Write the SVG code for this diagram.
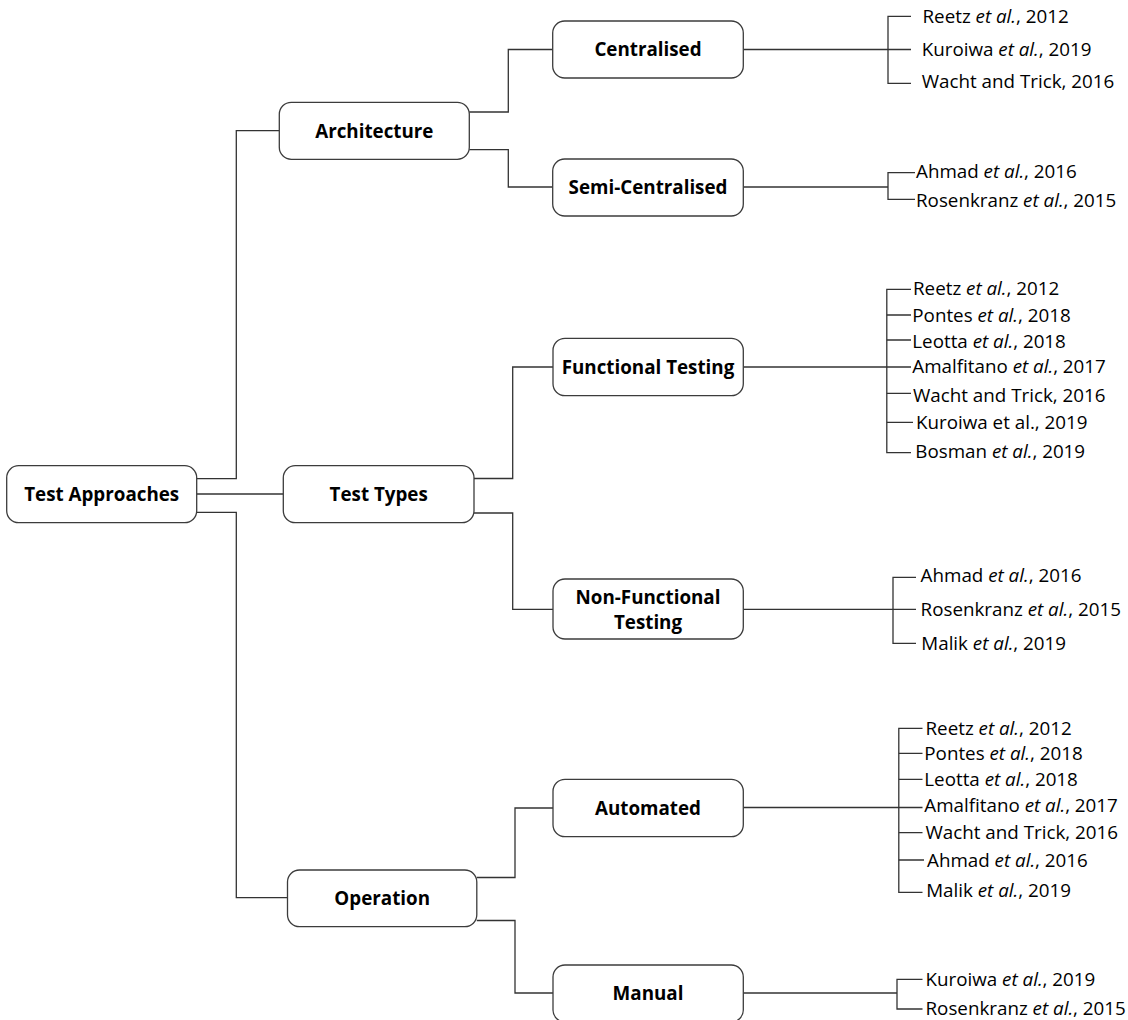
<svg xmlns="http://www.w3.org/2000/svg" width="1128" height="1020" viewBox="0 0 1128 1020">
  <style>
    .node rect { fill: #ffffff; stroke: #3c3c3c; stroke-width: 1.3; }
    .node text { font-family: "Open Sans", "Noto Sans", "Liberation Sans", sans-serif; font-size: 18.8px; font-weight: bold; fill: #000; text-anchor: middle; }
    .links path { fill: none; stroke: #333333; stroke-width: 1.3; }
    .ref text { font-family: "Open Sans", "Noto Sans", "Liberation Sans", sans-serif; font-size: 18.8px; fill: #000; }
    .it { font-style: italic; }
  </style>
  <rect width="1128" height="1020" fill="#ffffff"/>

  <!-- connectors -->
  <g class="links" id="connectors">
    <!-- root to categories -->
    <path d="M196.7,478.7 H236.3 V130.7 H279.3"/>
    <path d="M196.7,494 H283.3"/>
    <path d="M196.7,512.3 H236.3 V897.7 H287.5"/>
    <!-- Architecture -->
    <path d="M469.3,112 H508.3 V49.5 H552.7"/>
    <path d="M469.3,149.7 H508.3 V187 H552.7"/>
    <!-- Test Types -->
    <path d="M474,478.5 H512.7 V367 H553"/>
    <path d="M474,513 H512.7 V609.3 H553"/>
    <!-- Operation -->
    <path d="M476.8,877.5 H515 V808 H553"/>
    <path d="M476.8,920.5 H515 V993 H553"/>

    <!-- Centralised references -->
    <path d="M743.3,49.5 H911"/>
    <path d="M911,16.3 H888 V83.3 H911"/>
    <!-- Semi-Centralised references -->
    <path d="M743.3,187 H888"/>
    <path d="M915,172.7 H888 V199.3 H915"/>
    <!-- Functional Testing references -->
    <path d="M743.3,367 H911"/>
    <path d="M911,289.3 H886.8 V452.7 H911"/>
    <path d="M886.8,315 H911 M886.8,340 H911 M886.8,393.3 H911 M886.8,422.3 H913"/>
    <!-- Non-Functional Testing references -->
    <path d="M743.3,609.3 H916"/>
    <path d="M916,577.3 H893 V643.3 H916"/>
    <!-- Automated references -->
    <path d="M743.3,807.5 H922.5"/>
    <path d="M922.5,728.3 H898.8 V892.3 H922.5"/>
    <path d="M898.8,753.3 H922.5 M898.8,779.3 H922.5 M898.8,832.7 H922.5 M898.8,860 H924"/>
    <!-- Manual references -->
    <path d="M743.3,993 H897"/>
    <path d="M922.5,979.3 H897 V1009 H922.5"/>
  </g>

  <!-- tree nodes -->
  <g class="node" id="test-approaches">
    <rect x="6.7" y="465.7" width="190" height="57" rx="12"/>
    <text x="101.7" y="500.8">Test Approaches</text>
  </g>
  <g class="node" id="architecture">
    <rect x="279.3" y="102.3" width="190" height="57" rx="12"/>
    <text x="374.3" y="137.8">Architecture</text>
  </g>
  <g class="node" id="test-types">
    <rect x="283.3" y="465.7" width="190.7" height="57" rx="12"/>
    <text x="378.7" y="500.8">Test Types</text>
  </g>
  <g class="node" id="operation">
    <rect x="287.5" y="870" width="189.3" height="56.7" rx="12"/>
    <text x="382.2" y="904.8">Operation</text>
  </g>
  <g class="node" id="centralised">
    <rect x="552.7" y="21" width="190.6" height="57" rx="12"/>
    <text x="648" y="56.3">Centralised</text>
  </g>
  <g class="node" id="semi-centralised">
    <rect x="552.7" y="159" width="190.6" height="57" rx="12"/>
    <text x="648" y="193.8">Semi-Centralised</text>
  </g>
  <g class="node" id="functional-testing">
    <rect x="553" y="338.3" width="190.3" height="57.4" rx="12"/>
    <text x="648" y="373.8">Functional Testing</text>
  </g>
  <g class="node" id="non-functional-testing">
    <rect x="553" y="579" width="190.3" height="60" rx="12"/>
    <text x="648" y="603.5">Non-Functional</text>
    <text x="648" y="628.5">Testing</text>
  </g>
  <g class="node" id="automated">
    <rect x="553" y="779.3" width="190.3" height="57.4" rx="12"/>
    <text x="648" y="814.6">Automated</text>
  </g>
  <g class="node" id="manual">
    <rect x="553" y="965" width="190.3" height="57" rx="12"/>
    <text x="648" y="1000">Manual</text>
  </g>

  <!-- reference lists -->
  <g class="ref" id="refs-centralised">
    <text x="922.5" y="23">Reetz <tspan class="it">et al.</tspan>, 2012</text>
    <text x="921.7" y="56">Kuroiwa <tspan class="it">et al.</tspan>, 2019</text>
    <text x="921.7" y="88.4">Wacht and Trick, 2016</text>
  </g>
  <g class="ref" id="refs-semi-centralised">
    <text x="916" y="178.4">Ahmad <tspan class="it">et al.</tspan>, 2016</text>
    <text x="916" y="206.7">Rosenkranz <tspan class="it">et al.</tspan>, 2015</text>
  </g>
  <g class="ref" id="refs-functional">
    <text x="913" y="295">Reetz <tspan class="it">et al.</tspan>, 2012</text>
    <text x="912.3" y="321.7">Pontes <tspan class="it">et al.</tspan>, 2018</text>
    <text x="912.3" y="347.7">Leotta <tspan class="it">et al.</tspan>, 2018</text>
    <text x="912.3" y="373.4">Amalfitano <tspan class="it">et al.</tspan>, 2017</text>
    <text x="913" y="401.7">Wacht and Trick, 2016</text>
    <text x="916" y="429">Kuroiwa et al., 2019</text>
    <text x="915.3" y="458.4">Bosman <tspan class="it">et al.</tspan>, 2019</text>
  </g>
  <g class="ref" id="refs-non-functional">
    <text x="920.6" y="581.7">Ahmad <tspan class="it">et al.</tspan>, 2016</text>
    <text x="920.6" y="616">Rosenkranz <tspan class="it">et al.</tspan>, 2015</text>
    <text x="921.3" y="649.7">Malik <tspan class="it">et al.</tspan>, 2019</text>
  </g>
  <g class="ref" id="refs-automated">
    <text x="925.5" y="735">Reetz <tspan class="it">et al.</tspan>, 2012</text>
    <text x="924.3" y="760">Pontes <tspan class="it">et al.</tspan>, 2018</text>
    <text x="924.3" y="786">Leotta <tspan class="it">et al.</tspan>, 2018</text>
    <text x="924.3" y="812.4">Amalfitano <tspan class="it">et al.</tspan>, 2017</text>
    <text x="925.5" y="839.4">Wacht and Trick, 2016</text>
    <text x="927" y="866.7">Ahmad <tspan class="it">et al.</tspan>, 2016</text>
    <text x="926.2" y="896.7">Malik <tspan class="it">et al.</tspan>, 2019</text>
  </g>
  <g class="ref" id="refs-manual">
    <text x="925.5" y="986">Kuroiwa <tspan class="it">et al.</tspan>, 2019</text>
    <text x="925.5" y="1014.5">Rosenkranz <tspan class="it">et al.</tspan>, 2015</text>
  </g>
</svg>
